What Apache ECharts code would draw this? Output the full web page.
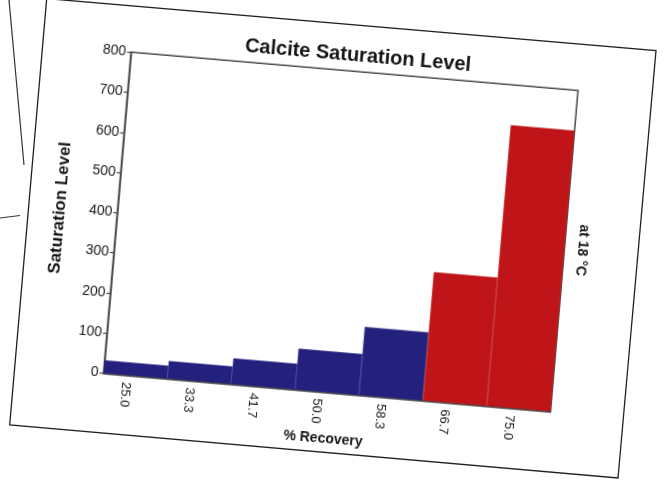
<!DOCTYPE html>
<html>
<head>
<meta charset="utf-8">
<script src="https://cdn.jsdelivr.net/npm/echarts@6/dist/echarts.min.js"></script>
<style>
  html, body { margin: 0; padding: 0; background: #ffffff; }
  #wrap { position: relative; width: 668px; height: 484px; overflow: hidden; background: #ffffff; }
  #bg, #main { position: absolute; left: 0; top: 0; width: 668px; height: 484px; }
  #main { transform: rotate(4.9deg); transform-origin: 334px 242px; }
</style>
</head>
<body>
<div id="wrap">
  <div id="bg"></div>
  <div id="main"></div>
</div>
<script>
// ---- data ----
const categories = ['25.0', '33.3', '41.7', '50.0', '58.3', '66.7', '75.0'];
const saturation = [32, 44, 64, 102, 170, 320, 700];
const yTicks = { min: 0, max: 800, step: 100 };
const titleText = 'Calcite Saturation Level';
const yName = 'Saturation Level';
const xName = '% Recovery';
const noteText = 'at 18 °C';
const highFrom = 5; // first category index drawn in red

// ---- background: photographed sheets of paper ----
const bg = echarts.init(document.getElementById('bg'), null, { renderer: 'canvas' });
bg.setOption({
  animation: false,
  graphic: [
    { type: 'line', shape: { x1: 9, y1: 0, x2: 24, y2: 165 }, style: { stroke: '#333', lineWidth: 1.2 } },
    { type: 'line', shape: { x1: 0, y1: 218, x2: 20, y2: 215.5 }, style: { stroke: '#333', lineWidth: 1.2 } },
    { type: 'polygon', shape: { points: [[46.7, -1.4], [656, 50.5], [618, 478], [9.7, 425]] },
      style: { fill: '#ffffff', stroke: '#222', lineWidth: 1.3 } }
  ]
});

// ---- the chart (photographed at a slight tilt) ----
const chart = echarts.init(document.getElementById('main'), null, { renderer: 'canvas' });
const BLUE = '#24217e';
const RED = '#c01518';
const FONT = 'Liberation Sans, Arial, sans-serif';
const barData = saturation.map((v, i) => {
  const c = i < highFrom ? BLUE : RED;
  return { value: v, itemStyle: { color: c, borderColor: c, borderWidth: 0.6 } };
});
chart.setOption({
  animation: false,
  backgroundColor: 'transparent',
  title: {
    text: titleText,
    left: 342,
    top: 44,
    textAlign: 'center',
    padding: 0,
    textStyle: { fontFamily: FONT, fontWeight: 'bold', fontSize: 20, color: '#151515' }
  },
  grid: {
    left: 115.5, top: 70.3, width: 448.7, height: 322,
    show: true, borderColor: '#4a4a4a', borderWidth: 1.5, backgroundColor: 'transparent'
  },
  xAxis: {
    type: 'category',
    data: categories,
    boundaryGap: true,
    axisLine: { show: true, lineStyle: { color: '#4a4a4a', width: 1.5 } },
    axisTick: { show: false },
    axisLabel: {
      rotate: -90, fontSize: 13, color: '#1a1a1a', margin: 7,
      fontFamily: FONT,
      verticalAlign: 'top', lineHeight: 18
    },
    name: xName,
    nameLocation: 'middle',
    nameGap: 37,
    nameTextStyle: { fontFamily: FONT, fontWeight: 'bold', fontSize: 14, color: '#151515' }
  },
  yAxis: {
    type: 'value',
    min: yTicks.min, max: yTicks.max, interval: yTicks.step,
    axisLine: { show: true, lineStyle: { color: '#4a4a4a', width: 1.5 } },
    axisTick: { show: true, length: 4, lineStyle: { color: '#4a4a4a', width: 1.2 } },
    axisLabel: { fontSize: 14, color: '#1a1a1a', margin: 5, fontFamily: FONT },
    splitLine: { show: false },
    name: yName,
    nameLocation: 'middle',
    nameGap: 49,
    nameTextStyle: { fontFamily: FONT, fontWeight: 'bold', fontSize: 17, color: '#151515' }
  },
  series: [{
    type: 'bar',
    data: barData,
    barCategoryGap: '0%'
  }],
  graphic: [{
    type: 'text',
    x: 582, y: 229,
    rotation: -Math.PI / 2,
    style: {
      text: noteText, fill: '#151515',
      font: 'bold 14px "Liberation Sans", Arial, sans-serif',
      align: 'center', verticalAlign: 'middle'
    }
  }]
});
</script>
</body>
</html>
